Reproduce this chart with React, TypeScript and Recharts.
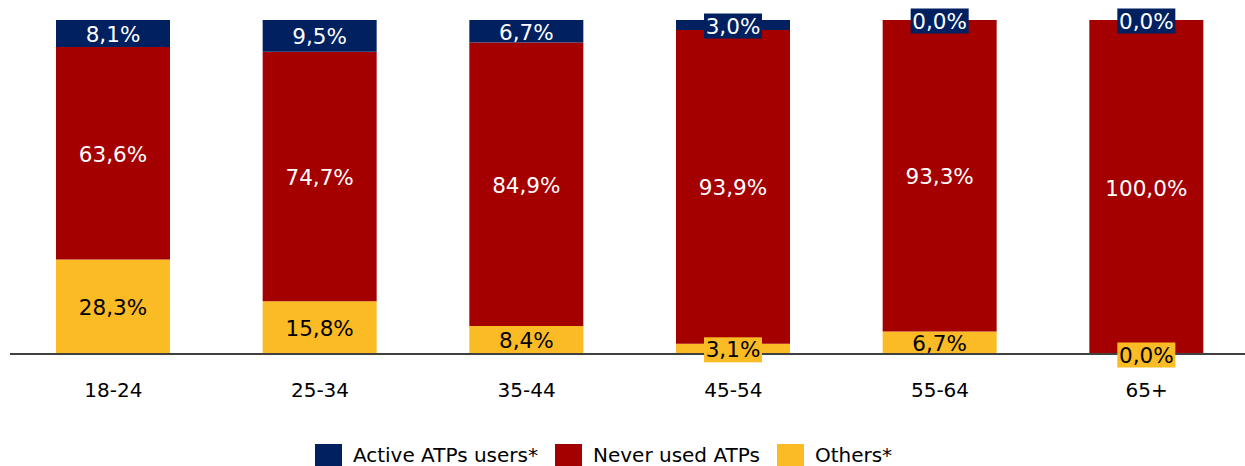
import React from 'react';
import { BarChart, Bar, XAxis, YAxis, Legend, LabelList } from 'recharts';

const categories = ['18-24', '25-34', '35-44', '45-54', '55-64', '65+'];
const activeUsers = [8.1, 9.5, 6.7, 3.0, 0.0, 0.0];
const neverUsed = [63.6, 74.7, 84.9, 93.9, 93.3, 100.0];
const others = [28.3, 15.8, 8.4, 3.1, 6.7, 0.0];

const NAVY = '#002060';
const RED = '#A50000';
const YELLOW = '#FBBB24';
const FONT = '"DejaVu Sans", Verdana, sans-serif';

const data = categories.map((c, i) => ({
  name: c,
  active: activeUsers[i],
  never: neverUsed[i],
  others: others[i],
}));

const fmt = (v: number) => v.toFixed(1).replace('.', ',') + '%';

function SegLabel({ cx, cy, segH, value, fill, color }: any) {
  const txt = fmt(Number(value));
  const boxW = txt.length * 12 + 10;
  const boxH = 25;
  const needBox = segH < 16;
  return (
    <g>
      {needBox && (
        <rect x={cx - boxW / 2} y={cy - boxH / 2 + 1} width={boxW} height={boxH} fill={fill} />
      )}
      <text
        x={cx}
        y={cy + 1}
        textAnchor="middle"
        dominantBaseline="central"
        fill={color}
        fontSize={21.5}
        fontFamily={FONT}
      >
        {txt}
      </text>
    </g>
  );
}

const renderAllLabels = (props: any) => {
  const { x, y, width, height, index } = props;
  const d = data[index];
  if (!d) return null;
  const X = Number(x);
  const Y = Number(y);
  const W = Number(width);
  const H = Number(height);
  const cx = X + W / 2;
  const scale = H / d.never;
  const activeH = d.active * scale;
  const othersH = d.others * scale;
  return (
    <g>
      <SegLabel cx={cx} cy={Y + H / 2} segH={H} value={d.never} fill={RED} color="#fff" />
      <SegLabel cx={cx} cy={Y - activeH / 2} segH={activeH} value={d.active} fill={NAVY} color="#fff" />
      <SegLabel cx={cx} cy={Y + H + othersH / 2} segH={othersH} value={d.others} fill={YELLOW} color="#000" />
    </g>
  );
};

const legendItems = [
  { label: 'Active ATPs users*', color: NAVY },
  { label: 'Never used ATPs', color: RED },
  { label: 'Others*', color: YELLOW },
];

const renderLegend = () => (
  <div
    style={{
      display: 'flex',
      justifyContent: 'center',
      alignItems: 'center',
      fontFamily: FONT,
      fontSize: 20,
      color: '#000',
      width: 1245,
      height: 46,
      paddingTop: 24,
      boxSizing: 'border-box',
      paddingRight: 38,
    }}
  >
    {legendItems.map((it, i) => (
      <div
        key={it.label}
        style={{ display: 'flex', alignItems: 'center', marginRight: i < legendItems.length - 1 ? 17 : 0 }}
      >
        <div style={{ width: 27, height: 23, background: it.color, marginRight: 11 }} />
        <span>{it.label}</span>
      </div>
    ))}
  </div>
);

export default function App() {
  return (
    <div
      style={{
        position: 'absolute',
        left: 0,
        top: 0,
        width: 1245,
        height: 466,
        overflow: 'hidden',
        background: '#fff',
      }}
    >
      <BarChart
        width={1255}
        height={466}
        data={data}
        margin={{ top: 20, right: 5, left: 10, bottom: 0 }}
        barSize={114}
      >
        <XAxis
          dataKey="name"
          axisLine={{ stroke: '#404040', strokeWidth: 2 }}
          tickLine={false}
          tick={{ fill: '#000', fontSize: 20, fontFamily: FONT }}
          tickMargin={23}
          height={66}
        />
        <YAxis hide domain={[0, 100]} />
        <Legend
          verticalAlign="bottom"
          height={46}
          content={renderLegend}
          wrapperStyle={{ left: 0, width: 1245 }}
        />
        <Bar dataKey="others" stackId="a" fill={YELLOW} isAnimationActive={false} />
        <Bar dataKey="never" stackId="a" fill={RED} isAnimationActive={false}>
          <LabelList dataKey="never" content={renderAllLabels} />
        </Bar>
        <Bar dataKey="active" stackId="a" fill={NAVY} isAnimationActive={false} />
      </BarChart>
    </div>
  );
}
